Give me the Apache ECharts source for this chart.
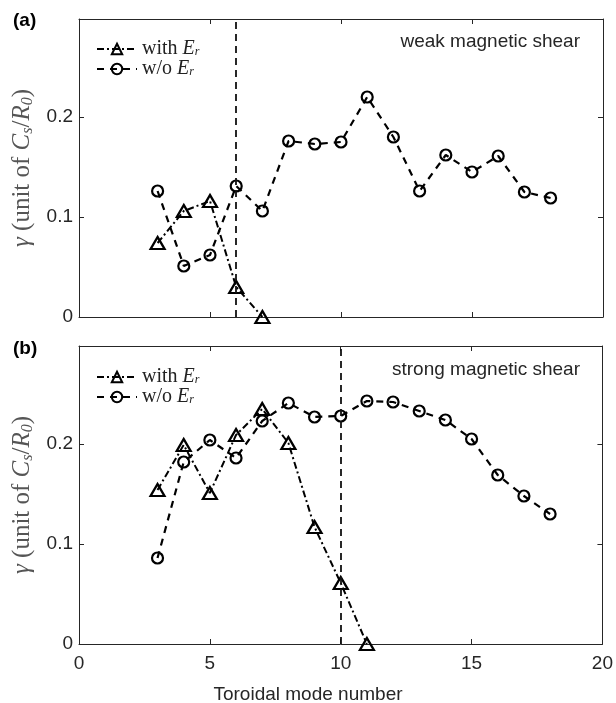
<!DOCTYPE html>
<html>
<head>
<meta charset="utf-8">
<script src="https://cdn.jsdelivr.net/npm/echarts@6/dist/echarts.min.js"></script>
<style>
    html, body { margin: 0; padding: 0; background: #fff; }
    #chart { width: 616px; height: 703px; }
</style>
</head>
<body>
<div id="chart"></div>
<script>
// 数据
const modeA = [3, 4, 5, 6, 7, 8, 9, 10, 11, 12, 13, 14, 15, 16, 17, 18]
const withErA = [0.074, 0.106, 0.116, 0.030, 0.0]
const woErA = [0.126, 0.051, 0.062, 0.131, 0.106, 0.176, 0.173, 0.175, 0.220, 0.180, 0.126, 0.162, 0.145, 0.161, 0.125, 0.119]
const modeB = [3, 4, 5, 6, 7, 8, 9, 10, 11, 12, 13, 14, 15, 16, 17, 18]
const withErB = [0.154, 0.199, 0.151, 0.209, 0.235, 0.201, 0.117, 0.061, 0.0]
const woErB = [0.086, 0.182, 0.204, 0.186, 0.223, 0.241, 0.227, 0.228, 0.243, 0.242, 0.233, 0.224, 0.205, 0.169, 0.148, 0.130]
const cutA = 6
const cutB = 10
const xTicks = [0, 5, 10, 15, 20]
const yTicks = [0, 0.1, 0.2]

const pairs = (xs, ys) => ys.map((v, i) => [xs[i], v])

const axisColor = '#262626'
const tickFont = { fontFamily: 'Liberation Sans', fontSize: 19, color: '#262626' }
const nameGrey = '#555'

function xAxisFor(grid, pos, labels) {
    return {
        type: 'value', gridIndex: grid, position: pos,
        min: xTicks[0], max: xTicks[xTicks.length - 1], interval: 5,
        splitLine: { show: false },
        axisLine: { show: true, onZero: false, lineStyle: { color: axisColor, width: 1 } },
        axisTick: { show: true, inside: true, length: 5, lineStyle: { color: axisColor } },
        axisLabel: Object.assign({ show: labels, margin: 10 }, tickFont)
    }
}

function yAxisFor(grid, pos, labels) {
    return {
        type: 'value', gridIndex: grid, position: pos,
        min: yTicks[0], max: 0.298, interval: 0.1,
        splitLine: { show: false },
        axisLine: { show: true, onZero: false, lineStyle: { color: axisColor, width: 1 } },
        axisTick: { show: true, inside: true, length: 5, lineStyle: { color: axisColor } },
        axisLabel: Object.assign({ show: labels, margin: 6, showMaxLabel: false }, tickFont),
        name: labels ? '{g|γ} (unit of {it|C}{sub|s}{n|/}{it|R}{sub|0})' : '',
        nameLocation: 'middle', nameRotate: 90, nameGap: 40,
        nameTextStyle: {
            fontFamily: 'Liberation Serif', fontSize: 25, color: nameGrey,
            rich: {
                g: { fontFamily: 'Liberation Serif', fontStyle: 'italic', fontSize: 25, color: nameGrey },
                it: { fontFamily: 'Liberation Serif', fontStyle: 'italic', fontSize: 25, color: nameGrey },
                n: { fontFamily: 'Liberation Serif', fontSize: 25, color: nameGrey },
                sub: { fontFamily: 'Liberation Serif', fontStyle: 'italic', fontSize: 16, color: nameGrey, padding: [10, 0, 0, 0] }
            }
        }
    }
}

function legendFor(top) {
    return {
        left: 91, top: top, orient: 'vertical', itemWidth: 40, itemHeight: 13, itemGap: 0,
        data: ['with', 'wo'],
        formatter: name => (name === 'with' ? 'with ' : 'w/o ') + '{it|E}{sub|r}',
        textStyle: {
            fontFamily: 'Liberation Serif', fontSize: 20, color: '#222', lineHeight: 18,
            rich: {
                it: { fontFamily: 'Liberation Serif', fontStyle: 'italic', fontSize: 20, color: '#222', lineHeight: 18 },
                sub: { fontFamily: 'Liberation Serif', fontStyle: 'italic', fontSize: 12, color: '#222', lineHeight: 18, padding: [6, 0, 0, 0] }
            }
        }
    }
}

function withSeries(x, y, data) {
    return {
        name: 'with', type: 'line', xAxisIndex: x, yAxisIndex: y,
        data: data, symbol: 'triangle', symbolSize: [14, 12],
        itemStyle: { color: 'rgba(0,0,0,0)', borderColor: '#000', borderWidth: 2.2 },
        lineStyle: { color: '#000', width: 2, type: [7, 3, 2, 3] },
        z: 3
    }
}

function woSeries(x, y, data, cut) {
    return {
        name: 'wo', type: 'line', xAxisIndex: x, yAxisIndex: y,
        data: data, symbol: 'circle', symbolSize: 11,
        itemStyle: { color: 'rgba(0,0,0,0)', borderColor: '#000', borderWidth: 2.2 },
        lineStyle: { color: '#000', width: 2.2, type: [7, 6] },
        markLine: {
            silent: true, symbol: 'none', label: { show: false },
            lineStyle: { color: '#111', width: 1.8, type: [7, 5] },
            data: [{ xAxis: cut }]
        },
        z: 3
    }
}

const chart = echarts.init(document.getElementById('chart'))
chart.setOption({
    animation: false,
    backgroundColor: '#fff',
    title: [
        { text: '(a)', left: 8, top: 6, textStyle: { fontFamily: 'Liberation Sans', fontWeight: 'bold', fontSize: 19, color: '#000' } },
        { text: '(b)', left: 8, top: 334, textStyle: { fontFamily: 'Liberation Sans', fontWeight: 'bold', fontSize: 19, color: '#000' } },
        { text: 'weak magnetic shear', right: 31, top: 27, textStyle: { fontFamily: 'Liberation Sans', fontWeight: 'normal', fontSize: 19, color: '#262626' } },
        { text: 'strong magnetic shear', right: 31, top: 355, textStyle: { fontFamily: 'Liberation Sans', fontWeight: 'normal', fontSize: 19, color: '#262626' } },
        { text: 'Toroidal mode number', left: 'center', top: 680, textStyle: { fontFamily: 'Liberation Sans', fontWeight: 'normal', fontSize: 19, color: '#262626' } }
    ],
    legend: [legendFor(34), legendFor(362)],
    grid: [
        { left: 79, top: 19, width: 524, height: 298 },
        { left: 79, top: 346, width: 524, height: 298 }
    ],
    xAxis: [
        xAxisFor(0, 'bottom', false),
        xAxisFor(0, 'top', false),
        xAxisFor(1, 'bottom', true),
        xAxisFor(1, 'top', false)
    ],
    yAxis: [
        yAxisFor(0, 'left', true),
        yAxisFor(0, 'right', false),
        yAxisFor(1, 'left', true),
        yAxisFor(1, 'right', false)
    ],
    series: [
        withSeries(0, 0, pairs(modeA, withErA)),
        woSeries(0, 0, pairs(modeA, woErA), cutA),
        withSeries(2, 2, pairs(modeB, withErB)),
        woSeries(2, 2, pairs(modeB, woErB), cutB)
    ]
})
</script>
</body>
</html>
